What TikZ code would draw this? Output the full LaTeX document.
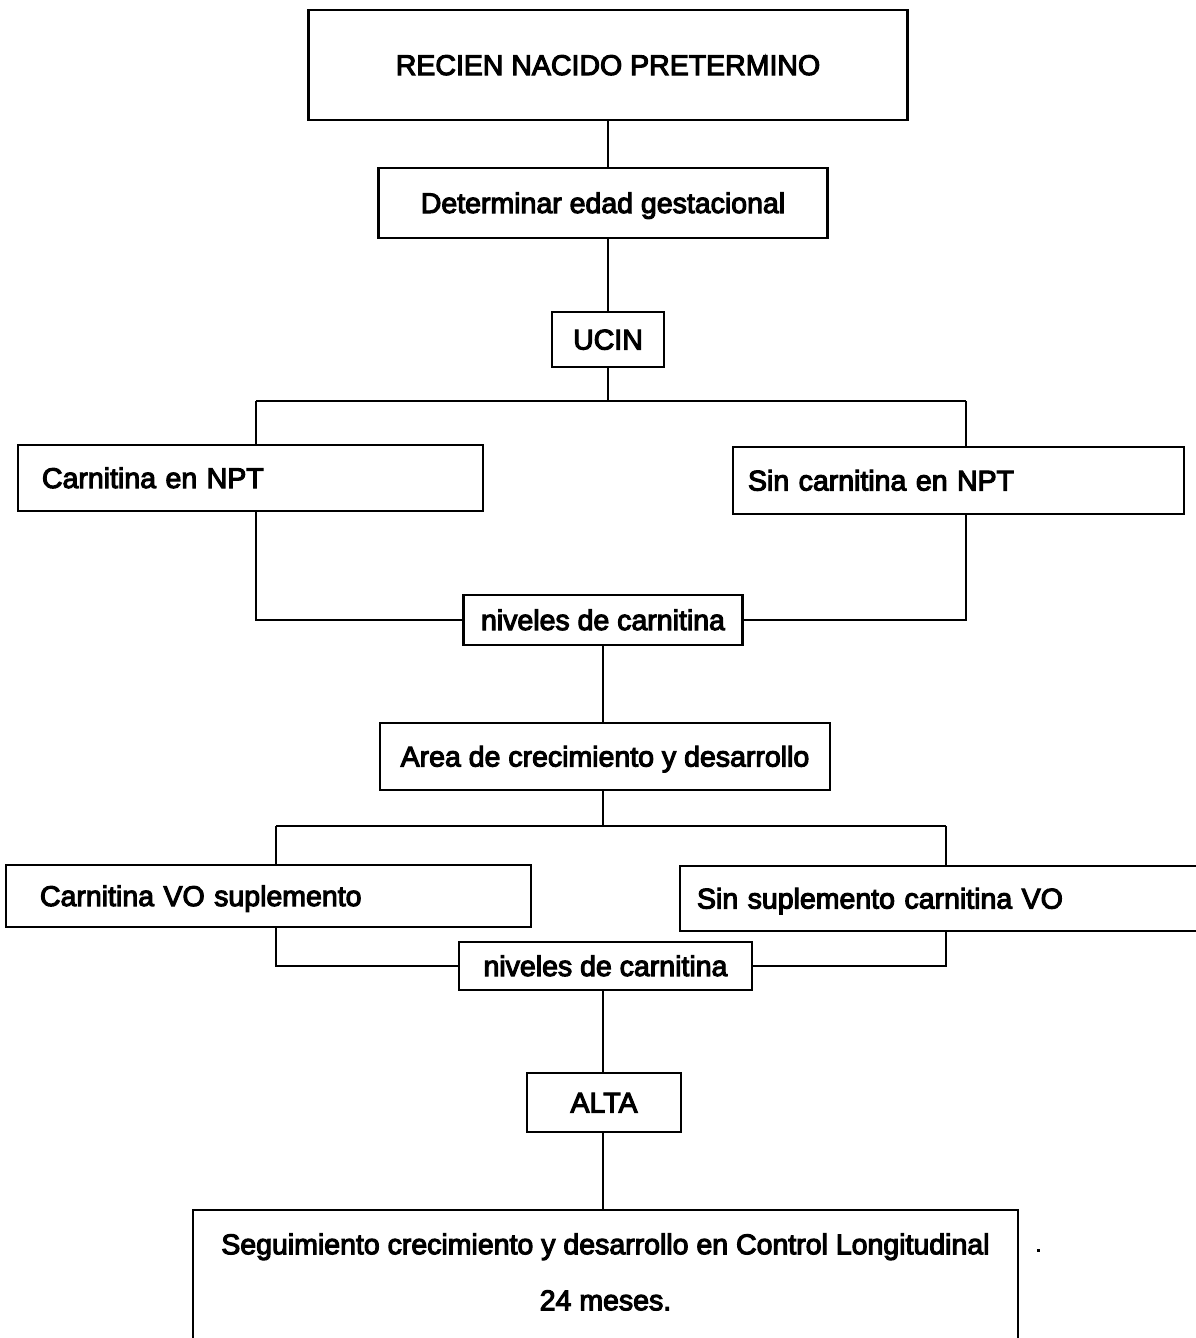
\documentclass[tikz,border=0pt]{standalone}
\usepackage{fontspec}
\setmainfont{Liberation Sans}
\newcommand{\heavytxt}{\special{pdf:literal direct 2 Tr 1.1 w}}
\begin{document}
\begin{tikzpicture}[x=1pt,y=-1pt,
  every node/.style={font=\fontsize{28.5}{34}\selectfont\heavytxt, text height=20pt, text depth=0pt},
  box/.style={draw, line width=2.2pt, rectangle, inner sep=0pt},
  lbox/.style={box, align=left},
  conn/.style={line width=2pt}]
\fill[white] (0,0) rectangle (1196,1338);
\useasboundingbox (0,0) rectangle (1196,1338);
\clip (0,0) rectangle (1196,1338);

% boxes
\node[box, minimum width=599pt, minimum height=110pt] (title) at (608,65) {RECIEN NACIDO PRETERMINO};
\node[box, minimum width=449pt, minimum height=70pt] (det) at (603,203) {Determinar edad gestacional};
\node[box, minimum width=112pt, minimum height=55pt] (ucin) at (608,339.5) {UCIN};
\node[lbox, inner xsep=24pt, text width=417pt, minimum height=66pt] (cnpt) at (250.5,478) {Carnitina en NPT};
\node[lbox, inner xsep=15pt, text width=421pt, minimum height=67pt] (snpt) at (958.5,480.5) {Sin carnitina en NPT};
\node[box, minimum width=279pt, minimum height=50pt] (niv1) at (603,620) {niveles de carnitina};
\node[box, minimum width=450pt, minimum height=67pt] (area) at (605,756.5) {Area de crecimiento y desarrollo};
\node[lbox, inner xsep=34pt, text width=457pt, minimum height=62pt] (cvo) at (268.5,896) {Carnitina VO suplemento};
\node[lbox, inner xsep=17pt, text width=496pt, minimum height=65pt] (svo) at (945,898.5) {Sin suplemento carnitina VO};
\node[box, minimum width=293pt, minimum height=48pt] (niv2) at (605.5,966) {niveles de carnitina};
\node[box, minimum width=154pt, minimum height=59pt] (alta) at (604,1102.5) {ALTA};
\node[align=center, inner sep=0pt, minimum width=825pt, minimum height=124pt, text height=, text depth=,
      font=\fontsize{28.5}{56}\selectfont\heavytxt] (follow) at (605.5,1272)
      {Seguimiento crecimiento y desarrollo en Control Longitudinal\\24 meses.};
\draw[line width=2.2pt] ([yshift=-20pt]follow.south west) -- (follow.north west) -- (follow.north east) -- ([yshift=-20pt]follow.south east);

% branch points
\coordinate (b1) at (608,401);
\coordinate (b1L) at (256,401);
\coordinate (b1R) at (966,401);
\coordinate (b2) at (603,826);
\coordinate (b2L) at (276,826);
\coordinate (b2R) at (946,826);

% connectors
\draw[conn] (title.south) -- (title.south |- det.north);
\draw[conn] (ucin.north) -- (ucin.north |- det.south);
\draw[conn] (ucin.south) -- (b1);
\draw[conn] (b1L) -- (b1R);
\draw[conn] (b1L) -- (b1L |- cnpt.north);
\draw[conn] (b1R) -- (b1R |- snpt.north);
\draw[conn] (b1L |- cnpt.south) -- (b1L |- niv1.west) -- (niv1.west);
\draw[conn] (b1R |- snpt.south) -- (b1R |- niv1.east) -- (niv1.east);
\draw[conn] (niv1.south) -- (niv1.south |- area.north);
\draw[conn] (area.south -| b2) -- (b2);
\draw[conn] (b2L) -- (b2R);
\draw[conn] (b2L) -- (b2L |- cvo.north);
\draw[conn] (b2R) -- (b2R |- svo.north);
\draw[conn] (b2L |- cvo.south) -- (b2L |- niv2.west) -- (niv2.west);
\draw[conn] (b2R |- svo.south) -- (b2R |- niv2.east) -- (niv2.east);
\draw[conn] (niv2.south -| b2) -- (b2 |- alta.north);
\draw[conn] (alta.south -| b2) -- (b2 |- follow.north);

% speck
\fill (1036.5,1248.5) rectangle (1039.5,1251.5);
\end{tikzpicture}
\end{document}
